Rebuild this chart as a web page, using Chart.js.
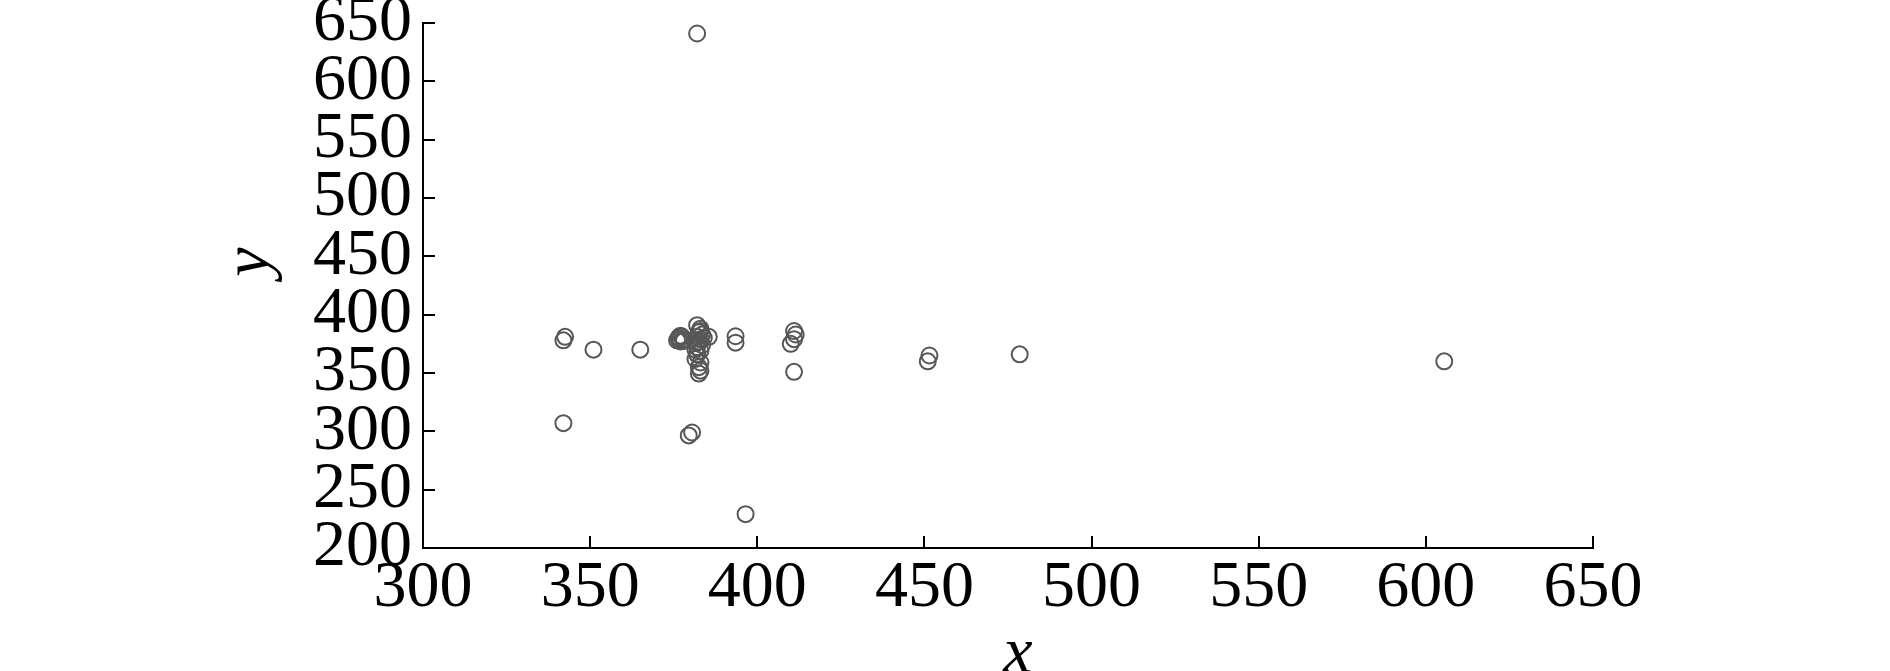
<!DOCTYPE html>
<html>
<head>
<meta charset="utf-8">
<script src="https://cdn.jsdelivr.net/npm/chart.js@4/dist/chart.umd.min.js"></script>
<style>
  html, body { margin: 0; padding: 0; background: #fff; }
  #wrap { width: 1890px; height: 671px; }
</style>
</head>
<body>
<div id="wrap"><canvas id="chart" width="1890" height="671"></canvas></div>
<script>
// values
const xValues = [342, 342.5, 342, 351, 365, 376, 376.5, 377, 377.5, 378, 376.5, 377, 378,
    382, 383, 382.5, 383.5, 382, 383, 382, 383.5, 382, 383, 382, 381.5, 383, 382.5, 383, 382.5,
    383, 382.5, 381.5, 384,
    385.5, 393.5, 393.5, 411, 411.5, 411, 410, 411, 451.5, 451, 478.5, 605.5,
    379.5, 380.5, 396.5, 382];
const yValues = [378, 381, 307, 370, 370, 378, 380.5, 377, 381, 379, 379, 382, 377.5,
    391, 388, 385, 383, 381, 379, 376, 374, 372, 369, 366, 362, 359, 355, 352, 349.5,
    386, 377, 370, 380,
    381, 381.5, 376, 386, 383, 379, 375, 351, 365, 360, 366, 360,
    296.5, 299, 229, 641];
const xTicks = [300, 350, 400, 450, 500, 550, 600, 650];
const yTicks = [200, 250, 300, 350, 400, 450, 500, 550, 600, 650];
const xTitle = 'x';
const yTitle = 'y';

const serif = "'Liberation Serif', 'Times New Roman', serif";

// inward tick marks and axis titles
const axisExtras = {
    id: 'axisExtras',
    afterDraw(chart) {
        const ctx = chart.ctx;
        const area = chart.chartArea;
        const xs = chart.scales.x;
        const ys = chart.scales.y;
        ctx.save();
        ctx.strokeStyle = '#000';
        ctx.lineWidth = 2;
        ctx.beginPath();
        xTicks.forEach(v => {
            const px = Math.round(xs.getPixelForValue(v));
            ctx.moveTo(px, area.bottom);
            ctx.lineTo(px, area.bottom - 12);
        });
        yTicks.forEach(v => {
            const py = Math.round(ys.getPixelForValue(v));
            ctx.moveTo(area.left, py);
            ctx.lineTo(area.left + 12, py);
        });
        ctx.stroke();

        ctx.fillStyle = '#000';
        ctx.font = 'italic 66px ' + serif;
        ctx.textAlign = 'center';
        ctx.textBaseline = 'alphabetic';
        ctx.fillText(xTitle, 1018, 672);

        ctx.translate(268, 262);
        ctx.rotate(-Math.PI / 2);
        ctx.fillText(yTitle, 0, 0);
        ctx.restore();
    }
};

const points = xValues.map((x, i) => ({ x: x, y: yValues[i] }));

new Chart(document.getElementById('chart').getContext('2d'), {
    type: 'scatter',
    data: {
        datasets: [{
            data: points,
            pointStyle: 'circle',
            pointRadius: 8,
            pointBorderWidth: 2,
            pointBorderColor: '#575757',
            pointBackgroundColor: 'rgba(0,0,0,0)',
            showLine: false
        }]
    },
    options: {
        responsive: false,
        animation: false,
        events: [],
        layout: { padding: { left: 227, right: 297, top: 23, bottom: 0 } },
        plugins: {
            legend: { display: false },
            tooltip: { enabled: false }
        },
        scales: {
            x: {
                type: 'linear',
                min: 300,
                max: 650,
                afterBuildTicks: (scale) => { scale.ticks = xTicks.map(v => ({ value: v })); },
                afterFit: (scale) => {
                    scale.height = 123;
                    scale.paddingLeft = 0;
                    scale.paddingRight = 0;
                },
                grid: { display: true, drawOnChartArea: false, drawTicks: false },
                border: { display: true, color: '#000', width: 2 },
                ticks: {
                    autoSkip: false,
                    maxRotation: 0,
                    padding: 8,
                    color: '#000',
                    font: { family: serif, size: 66, lineHeight: 1 }
                }
            },
            y: {
                type: 'linear',
                min: 200,
                max: 650,
                afterBuildTicks: (scale) => { scale.ticks = yTicks.map(v => ({ value: v })); },
                afterFit: (scale) => {
                    scale.width = 196;
                    scale.paddingTop = 0;
                    scale.paddingBottom = 0;
                },
                grid: { display: true, drawOnChartArea: false, drawTicks: false },
                border: { display: true, color: '#000', width: 2 },
                ticks: {
                    autoSkip: false,
                    padding: 11,
                    color: '#000',
                    font: { family: serif, size: 66, lineHeight: 1 }
                }
            }
        }
    },
    plugins: [axisExtras]
});
</script>
</body>
</html>
